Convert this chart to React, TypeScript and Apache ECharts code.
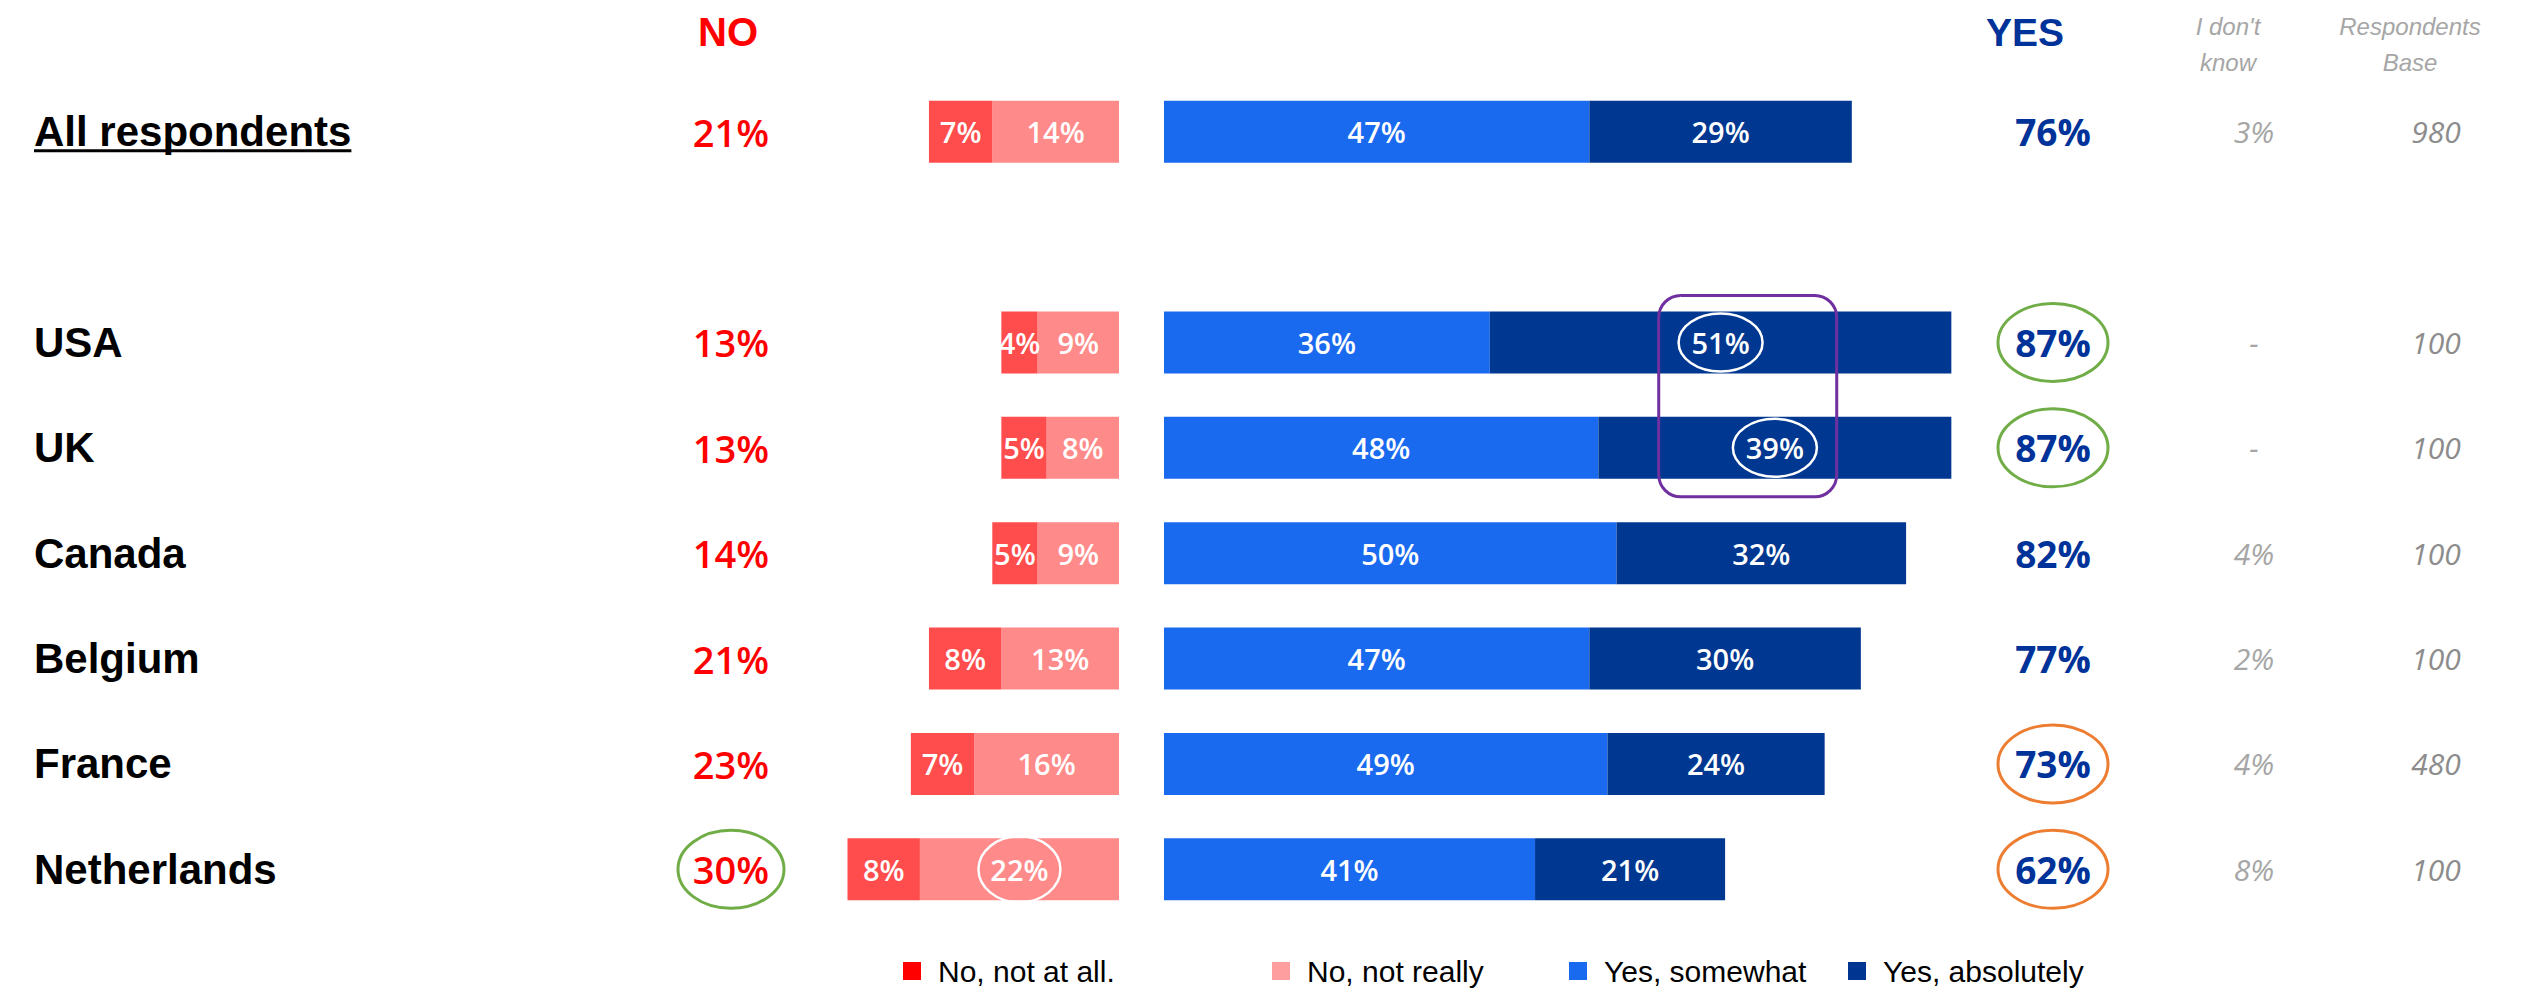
import React, { useEffect, useRef } from "react";
import * as echarts from "echarts";

// ---------- data ----------
const categories = ["All respondents", "", "USA", "UK", "Canada", "Belgium", "France", "Netherlands"];
const noNotAtAll = [7, null, 4, 5, 5, 8, 7, 8];
const noNotReally = [14, null, 9, 8, 9, 13, 16, 22];
const yesSomewhat = [47, null, 36, 48, 50, 47, 49, 41];
const yesAbsolutely = [29, null, 51, 39, 32, 30, 24, 21];
const noTotals = [21, null, 13, 13, 14, 21, 23, 30];
const yesTotals = [76, null, 87, 87, 82, 77, 73, 62];
const dontKnow = ["3%", "", "-", "-", "4%", "2%", "4%", "8%"];
const respondentsBase = ["980", "", "100", "100", "100", "100", "480", "100"];
const legendNames = ["No, not at all.", "No, not really", "Yes, somewhat", "Yes, absolutely"];

// annotations (row indices)
const circledYesGreen = [2, 3];
const circledYesOrange = [6, 7];
const circledNoGreen = [7];
const circledYesAbsolutely = [2, 3];
const circledNoNotReally = [7];

// ---------- styles / layout ----------
const FONT = "'Liberation Sans', Arial, sans-serif";
const FONT_OPEN = "'Open Sans', 'Liberation Sans', sans-serif";
const RED_BAR = "#FF4D4D";
const PINK_BAR = "#FF8A8A";
const BLUE_BAR = "#1A6AF0";
const NAVY_BAR = "#003790";
const LEG_COLORS = ["#FF0000", "#FF9E9E", "#1A6AF0", "#003591"];
const NO_RED = "#FF0000";
const YES_BLUE = "#003399";
const GREEN = "#70AD47";
const ORANGE = "#ED7D31";
const PURPLE = "#7030A0";

const PX_PER = 9.05;
const NEG_RIGHT = 1119;
const NEG_MAX = 40;
const NEG_LEFT = NEG_RIGHT - NEG_MAX * PX_PER;
const POS_LEFT = 1164;
const POS_MAX = 90;
const POS_RIGHT = POS_LEFT + POS_MAX * PX_PER;
const GRID_TOP = 79;
const GRID_HEIGHT = 843;
const NAME_X = 34;
const NO_X = 731;
const YES_X = 2053;
const DK_X = 2254;
const BASE_X = 2436;
const LEGEND_LEFTS = [903, 1272, 1569, 1848];

export default function App() {
  const ref = useRef<HTMLDivElement>(null);

  useEffect(() => {
    if (!ref.current) return;
    const chart = echarts.init(ref.current, null, { renderer: "svg" });

    const hiddenAxis = {
      axisLine: { show: false },
      axisTick: { show: false },
      splitLine: { show: false },
    };

    const barLabel = {
      show: true,
      position: "inside",
      color: "#ffffff",
      fontSize: 29,
      fontWeight: 600,
      fontFamily: FONT_OPEN,
      formatter: (p: any) => (p.value == null ? "" : p.value + "%"),
    };

    const catAxis = (gridIndex: number, position: string, extra: any) => ({
      type: "category",
      gridIndex,
      position,
      data: categories,
      inverse: true,
      ...hiddenAxis,
      ...extra,
    });

    const option: any = {
      animation: false,
      backgroundColor: "#ffffff",
      grid: [
        { left: NEG_LEFT, top: GRID_TOP, width: NEG_MAX * PX_PER, height: GRID_HEIGHT, containLabel: false, outerBoundsMode: "none" },
        { left: POS_LEFT, top: GRID_TOP, width: POS_MAX * PX_PER, height: GRID_HEIGHT, containLabel: false, outerBoundsMode: "none" },
      ],
      xAxis: [
        { type: "value", gridIndex: 0, min: 0, max: NEG_MAX, inverse: true, show: false },
        { type: "value", gridIndex: 1, min: 0, max: POS_MAX, show: false },
      ],
      yAxis: [
        catAxis(0, "left", {
          axisLabel: {
            show: true, interval: 0, align: "left", margin: NEG_LEFT - NAME_X,
            fontSize: 42, fontWeight: "bold", fontFamily: FONT, color: "#000000",
          },
        }),
        catAxis(0, "left", {
          axisLabel: {
            show: true, interval: 0, align: "center", margin: NEG_LEFT - NO_X,
            fontSize: 38, fontWeight: 600, fontFamily: FONT_OPEN, color: NO_RED,
            formatter: (_v: string, i: number) => (noTotals[i] == null ? "" : noTotals[i] + "%"),
          },
        }),
        catAxis(1, "right", {
          axisLabel: {
            show: true, interval: 0, align: "center", margin: YES_X - POS_RIGHT,
            fontSize: 37, fontWeight: "bold", fontFamily: FONT_OPEN, color: YES_BLUE,
            formatter: (_v: string, i: number) => (yesTotals[i] == null ? "" : yesTotals[i] + "%"),
          },
        }),
        catAxis(1, "right", {
          axisLabel: {
            show: true, interval: 0, align: "center", margin: DK_X - POS_RIGHT,
            fontSize: 30, fontStyle: "italic", fontFamily: FONT_OPEN, color: "#A6A6A6",
            formatter: (_v: string, i: number) => dontKnow[i],
          },
        }),
        catAxis(1, "right", {
          axisLabel: {
            show: true, interval: 0, align: "center", margin: BASE_X - POS_RIGHT,
            fontSize: 30, fontStyle: "italic", fontFamily: FONT_OPEN, color: "#8C8C8C",
            formatter: (_v: string, i: number) => respondentsBase[i],
          },
        }),
      ],
      legend: legendNames.map((name, i) => ({
        data: [name],
        left: LEGEND_LEFTS[i],
        top: 956,
        padding: 0,
        icon: "rect",
        itemWidth: 18,
        itemHeight: 18,
        selectedMode: false,
        itemStyle: { color: LEG_COLORS[i] },
        textStyle: { fontSize: 30, fontFamily: FONT, color: "#000000", padding: [0, 0, 0, 12] },
      })),
      series: [
        {
          name: legendNames[1], type: "bar", stack: "no", xAxisIndex: 0, yAxisIndex: 0,
          data: noNotReally, barWidth: 62, itemStyle: { color: PINK_BAR }, label: barLabel,
        },
        {
          name: legendNames[0], type: "bar", stack: "no", xAxisIndex: 0, yAxisIndex: 0,
          data: noNotAtAll, barWidth: 62, itemStyle: { color: RED_BAR }, label: barLabel,
        },
        {
          name: legendNames[2], type: "bar", stack: "yes", xAxisIndex: 1, yAxisIndex: 2,
          data: yesSomewhat, barWidth: 62, itemStyle: { color: BLUE_BAR }, label: barLabel,
        },
        {
          name: legendNames[3], type: "bar", stack: "yes", xAxisIndex: 1, yAxisIndex: 2,
          data: yesAbsolutely, barWidth: 62, itemStyle: { color: NAVY_BAR }, label: barLabel,
        },
      ],
    };

    chart.setOption(option);

    // ----- annotations positioned through the chart's scales -----
    const rowY = (i: number) => chart.convertToPixel({ yAxisIndex: 0 }, i) as number;
    const posX = (v: number) => chart.convertToPixel({ xAxisIndex: 1 }, v) as number;
    const negX = (v: number) => chart.convertToPixel({ xAxisIndex: 0 }, v) as number;

    const ctx = document.createElement("canvas").getContext("2d")!;
    ctx.font = `bold 42px ${FONT}`;
    const allW = ctx.measureText(categories[0]).width;

    const ellipse = (cx: number, cy: number, rx: number, ry: number, stroke: string, lw: number) => ({
      type: "ellipse",
      z: 100,
      shape: { cx, cy, rx, ry },
      style: { fill: "none", stroke, lineWidth: lw },
    });

    const graphics: any[] = [
      { type: "text", x: NO_X - 3, y: 32, style: { text: "NO", fill: NO_RED, font: `bold 40px ${FONT}`, textAlign: "center", textVerticalAlign: "middle" } },
      { type: "text", x: 2025, y: 32, style: { text: "YES", fill: YES_BLUE, font: `bold 39px ${FONT}`, textAlign: "center", textVerticalAlign: "middle" } },
      { type: "text", x: 2228, y: 44, style: { text: "I don't\nknow", fill: "#A6A6A6", font: `italic 24px ${FONT}`, lineHeight: 36, textAlign: "center", textVerticalAlign: "middle" } },
      { type: "text", x: 2410, y: 44, style: { text: "Respondents\nBase", fill: "#A6A6A6", font: `italic 24px ${FONT}`, lineHeight: 36, textAlign: "center", textVerticalAlign: "middle" } },
      { type: "line", shape: { x1: NAME_X, y1: rowY(0) + 19, x2: NAME_X + allW, y2: rowY(0) + 19 }, style: { stroke: "#000000", lineWidth: 3 } },
    ];

    circledYesGreen.forEach((r) => graphics.push(ellipse(YES_X, rowY(r), 55, 39, GREEN, 3)));
    circledYesOrange.forEach((r) => graphics.push(ellipse(YES_X, rowY(r), 55, 39, ORANGE, 3)));
    circledNoGreen.forEach((r) => graphics.push(ellipse(NO_X, rowY(r), 53, 39, GREEN, 3)));
    circledYesAbsolutely.forEach((r) =>
      graphics.push(ellipse(posX((yesSomewhat[r] as number) + (yesAbsolutely[r] as number) / 2), rowY(r), 42, 29, "#ffffff", 2.5))
    );
    circledNoNotReally.forEach((r) =>
      graphics.push(ellipse(negX((noNotReally[r] as number) / 2), rowY(r), 41, 33, "#ffffff", 2.5))
    );

    // purple frame around the "Yes, absolutely" values of USA and UK
    const r1 = circledYesAbsolutely[0];
    const r2 = circledYesAbsolutely[1];
    const c1 = posX((yesSomewhat[r1] as number) + (yesAbsolutely[r1] as number) / 2);
    const c2 = posX((yesSomewhat[r2] as number) + (yesAbsolutely[r2] as number) / 2);
    const cx = (c1 + c2) / 2;
    const top = rowY(r1) - 47;
    const bottom = rowY(r2) + 49;
    graphics.push({
      type: "rect",
      z: 101,
      shape: { x: cx - 89, y: top, width: 178, height: bottom - top, r: 22 },
      style: { fill: "none", stroke: PURPLE, lineWidth: 3 },
    });

    chart.setOption({ graphic: graphics });

    return () => chart.dispose();
  }, []);

  return (
    <div
      ref={ref}
      style={{ position: "fixed", left: 0, top: 0, width: 2547, height: 996, background: "#fff" }}
    />
  );
}
